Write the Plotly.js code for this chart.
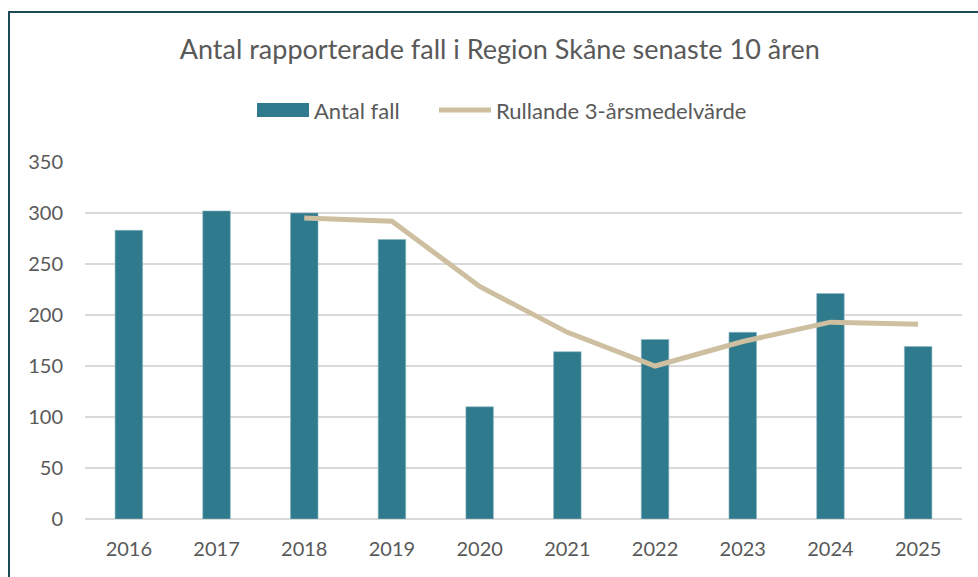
<!DOCTYPE html>
<html>
<head>
<meta charset="utf-8">
<script src="https://cdn.plot.ly/plotly-3.0.1.min.js"></script>
<style>
html,body{margin:0;padding:0;background:#fff;}
#wrap{position:relative;width:978px;height:577px;overflow:hidden;}
#chart{position:absolute;left:0;top:0;width:978px;height:577px;}
#frame{position:absolute;left:8px;top:11px;width:1000px;height:700px;border-left:2px solid #1d4a55;border-top:2px solid #1d4a55;pointer-events:none;}
</style>
</head>
<body>
<div id="wrap"><div id="chart"></div><div id="frame"></div></div>
<script>
const years = ['2016','2017','2018','2019','2020','2021','2022','2023','2024','2025'];
const antalFall = [283, 302, 300, 274, 110, 164, 176, 183, 221, 169];
const rollingYears = ['2018','2019','2020','2021','2022','2023','2024','2025'];
const rollingMean = [295, 292, 228, 183, 150, 174, 193, 191];
const yTicks = [0, 50, 100, 150, 200, 250, 300, 350];
const seriesNames = ['Antal fall', 'Rullande 3-årsmedelvärde'];

const FONT = 'Lato, "Open Sans", sans-serif';
const TXT = '#595959';
const BAR = '#2f7a8c';
const LINE = '#cdbfa0';

// plot area in pixels (for the hand-made legend only)
const PL = 85, PR = 962, PT = 162, PB = 519;
const px = v => (v - PL) / (PR - PL);
const py = v => (PB - v) / (PB - PT);

const data = [
  {
    type: 'bar', x: years, y: antalFall, name: seriesNames[0],
    marker: {color: BAR, line: {color: '#8fb7c1', width: 0.6}},
    showlegend: false
  },
  {
    type: 'scatter', mode: 'lines', x: rollingYears, y: rollingMean,
    name: seriesNames[1], line: {color: LINE, width: 5},
    showlegend: false
  }
];

const layout = {
  width: 978, height: 577,
  margin: {l: PL, r: 978 - PR, t: PT, b: 577 - PB},
  paper_bgcolor: '#fff', plot_bgcolor: '#fff',
  font: {family: FONT, color: TXT, size: 20},
  title: {
    text: 'Antal rapporterade fall i Region Skåne senaste 10 åren',
    font: {family: FONT, size: 27, color: TXT},
    x: 0.511, xanchor: 'center', xref: 'container',
    y: 1 - 50/577, yanchor: 'middle', yref: 'container'
  },
  bargap: 0.686,
  showlegend: false,
  shapes: [
    {type: 'rect', xref: 'paper', yref: 'paper', x0: px(257), x1: px(309), y0: py(117), y1: py(103),
     fillcolor: BAR, line: {width: 0}},
    {type: 'line', xref: 'paper', yref: 'paper', x0: px(439), x1: px(491), y0: py(110), y1: py(110),
     line: {color: LINE, width: 5}}
  ],
  annotations: [
    {xref: 'paper', yref: 'paper', x: px(312), y: py(110), xanchor: 'left', yanchor: 'middle',
     text: seriesNames[0], showarrow: false, font: {family: FONT, size: 22, color: TXT}},
    {xref: 'paper', yref: 'paper', x: px(494), y: py(110), xanchor: 'left', yanchor: 'middle',
     text: seriesNames[1], showarrow: false, font: {family: FONT, size: 22, color: TXT}}
  ],
  xaxis: {
    type: 'category', tickvals: years, ticktext: years,
    showgrid: false, showline: false, ticks: '', zeroline: false,
    tickfont: {family: FONT, size: 20, color: TXT},
    ticklabelstandoff: 16
  },
  yaxis: {
    range: [0, 350], tickvals: yTicks, ticktext: yTicks.map(String),
    showgrid: true, gridcolor: '#d9d9d9', gridwidth: 1.5,
    zeroline: true, zerolinecolor: '#d9d9d9', zerolinewidth: 2,
    showline: false, ticks: '',
    tickfont: {family: FONT, size: 20, color: TXT},
    ticklabelstandoff: 21
  }
};

Plotly.newPlot('chart', data, layout, {displayModeBar: false, staticPlot: true});
</script>
</body>
</html>
